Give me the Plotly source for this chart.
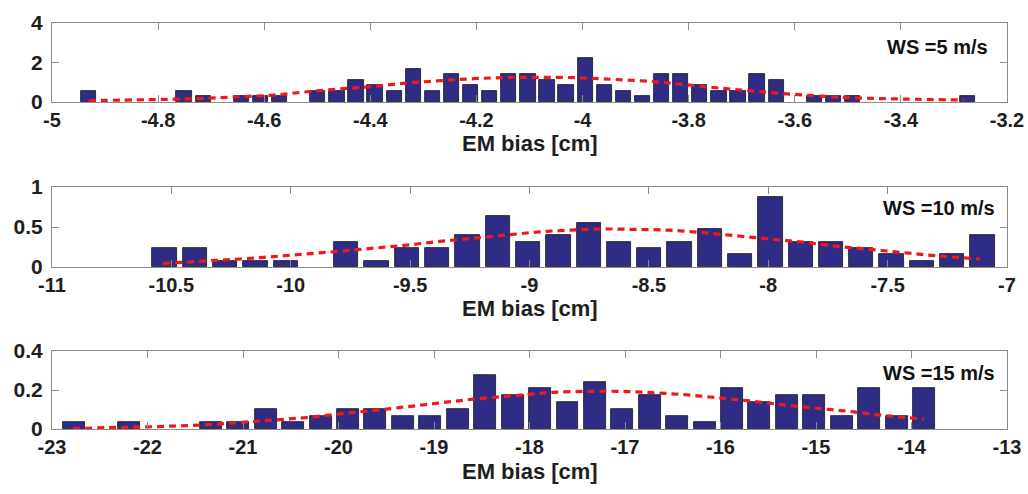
import plotly.graph_objects as go

# ---------------- data ----------------
# Panel 1 (WS = 5 m/s)
centers_5 = [-4.931, -4.895, -4.859, -4.823, -4.787, -4.751, -4.715, -4.679, -4.643, -4.607,
             -4.571, -4.535, -4.499, -4.463, -4.427, -4.391, -4.355, -4.319, -4.283, -4.247,
             -4.211, -4.175, -4.139, -4.103, -4.067, -4.031, -3.995, -3.959, -3.923, -3.887,
             -3.851, -3.815, -3.779, -3.743, -3.707, -3.671, -3.635, -3.599, -3.563, -3.527,
             -3.491, -3.455, -3.419, -3.383, -3.347, -3.311, -3.275]
heights_5 = [0.56, 0, 0, 0, 0, 0.56, 0.28, 0, 0.28, 0.28,
             0.28, 0, 0.56, 0.56, 1.12, 0.84, 0.56, 1.68, 0.56, 1.40,
             0.84, 0.56, 1.40, 1.40, 1.12, 0.84, 2.24, 0.84, 0.56, 0.28,
             1.40, 1.40, 0.84, 0.56, 0.56, 1.40, 1.12, 0, 0.28, 0.28,
             0.28, 0, 0, 0, 0, 0, 0.28]
fit_x_5 = [-4.931, -4.815, -4.721, -4.645, -4.582, -4.519, -4.457, -4.394, -4.331, -4.268,
           -4.205, -4.142, -4.079, -4.010, -3.960, -3.865, -3.802, -3.740, -3.677, -3.614,
           -3.551, -3.488, -3.394, -3.281]
fit_y_5 = [0.07, 0.12, 0.18, 0.27, 0.35, 0.52, 0.66, 0.79, 0.96, 1.08,
           1.18, 1.24, 1.25, 1.23, 1.17, 1.03, 0.87, 0.70, 0.55, 0.41,
           0.30, 0.21, 0.15, 0.10]

# Panel 2 (WS = 10 m/s)
centers_10 = [-10.529, -10.402, -10.275, -10.148, -10.021, -9.894, -9.768, -9.641, -9.514, -9.387,
              -9.260, -9.133, -9.006, -8.879, -8.752, -8.626, -8.499, -8.372, -8.245, -8.118,
              -7.991, -7.864, -7.737, -7.611, -7.484, -7.357, -7.230, -7.103]
heights_10 = [0.237, 0.237, 0.079, 0.079, 0.079, 0, 0.316, 0.079, 0.237, 0.237,
              0.395, 0.632, 0.316, 0.395, 0.553, 0.316, 0.237, 0.316, 0.474, 0.158,
              0.869, 0.316, 0.316, 0.237, 0.158, 0.079, 0.158, 0.395]
fit_x_10 = [-10.535, -10.353, -10.214, -10.074, -9.934, -9.795, -9.655, -9.515, -9.376, -9.236,
            -9.096, -8.957, -8.831, -8.692, -8.552, -8.412, -8.273, -8.133, -7.993, -7.854,
            -7.714, -7.574, -7.435, -7.295, -7.114]
fit_y_10 = [0.045, 0.076, 0.10, 0.13, 0.164, 0.197, 0.235, 0.273, 0.32, 0.36,
            0.40, 0.44, 0.46, 0.475, 0.47, 0.46, 0.43, 0.39, 0.35, 0.31,
            0.26, 0.22, 0.18, 0.14, 0.10]

# Panel 3 (WS = 15 m/s)
centers_15 = [-22.772, -22.485, -22.198, -21.910, -21.623, -21.336, -21.049, -20.762, -20.474, -20.187,
              -19.900, -19.613, -19.326, -19.038, -18.751, -18.464, -18.177, -17.890, -17.602, -17.315,
              -17.028, -16.741, -16.454, -16.166, -15.879, -15.592, -15.305, -15.018, -14.730, -14.443,
              -14.156, -13.869]
heights_15 = [0.035, 0, 0.035, 0, 0, 0.035, 0.035, 0.104, 0.035, 0.069,
              0.104, 0.104, 0.069, 0.069, 0.104, 0.278, 0.174, 0.208, 0.139, 0.243,
              0.104, 0.174, 0.069, 0.035, 0.208, 0.139, 0.174, 0.174, 0.069, 0.208,
              0.069, 0.208]
fit_x_15 = [-22.779, -22.43, -22.08, -21.73, -21.38, -21.03, -20.68, -20.33, -19.985, -19.636,
            -19.286, -18.937, -18.588, -18.238, -17.994, -17.75, -17.40, -17.05, -16.70, -16.35,
            -16.00, -15.655, -15.305, -14.956, -14.607, -14.257, -13.873]
fit_y_15 = [0.002, 0.007, 0.010, 0.015, 0.022, 0.034, 0.046, 0.059, 0.078, 0.095,
            0.114, 0.134, 0.153, 0.168, 0.178, 0.188, 0.193, 0.193, 0.186, 0.175,
            0.159, 0.142, 0.122, 0.105, 0.088, 0.068, 0.051]

labels = ["WS =5 m/s", "WS =10 m/s", "WS =15 m/s"]
x_title = "EM bias [cm]"

xtick_vals_5 = [-5, -4.8, -4.6, -4.4, -4.2, -4, -3.8, -3.6, -3.4, -3.2]
xtick_text_5 = ["-5", "-4.8", "-4.6", "-4.4", "-4.2", "-4", "-3.8", "-3.6", "-3.4", "-3.2"]
xtick_vals_10 = [-11, -10.5, -10, -9.5, -9, -8.5, -8, -7.5, -7]
xtick_text_10 = ["-11", "-10.5", "-10", "-9.5", "-9", "-8.5", "-8", "-7.5", "-7"]
xtick_vals_15 = [-23, -22, -21, -20, -19, -18, -17, -16, -15, -14, -13]
xtick_text_15 = ["-23", "-22", "-21", "-20", "-19", "-18", "-17", "-16", "-15", "-14", "-13"]
ytick_vals_5 = [0, 2, 4]
ytick_text_5 = ["0", "2", "4"]
ytick_vals_10 = [0, 0.5, 1]
ytick_text_10 = ["0", "0.5", "1"]
ytick_vals_15 = [0, 0.2, 0.4]
ytick_text_15 = ["0", "0.2", "0.4"]

# ---------------- styling ----------------
BAR = "#2f2c86"
RED = "#f01818"
FRAME = "#8c8c8c"
TXT = "#1e1e1e"
FONT = "Liberation Sans, Arial, sans-serif"

panels = [
    dict(c=centers_5, h=heights_5, fx=fit_x_5, fy=fit_y_5, bw=0.0288, xr=[-5, -3.2], yr=[0, 4],
         xv=xtick_vals_5, xt=xtick_text_5, yv=ytick_vals_5, yt=ytick_text_5,
         dom=[0.8054, 1.0], lab_x=0.982, lab_y=0.70, tshift=-41),
    dict(c=centers_10, h=heights_10, fx=fit_x_10, fy=fit_y_10, bw=0.1015, xr=[-11, -7], yr=[0, 1],
         xv=xtick_vals_10, xt=xtick_text_10, yv=ytick_vals_10, yt=ytick_text_10,
         dom=[0.399, 0.596], lab_x=0.9895, lab_y=0.737, tshift=-41),
    dict(c=centers_15, h=heights_15, fx=fit_x_15, fy=fit_y_15, bw=0.2298, xr=[-23, -13], yr=[0, 0.4],
         xv=xtick_vals_15, xt=xtick_text_15, yv=ytick_vals_15, yt=ytick_text_15,
         dom=[0.0, 0.192], lab_x=0.9895, lab_y=0.718, tshift=-42),
]

fig = go.Figure()
layout = dict(
    width=1028, height=494,
    margin=dict(l=52, r=21, t=23, b=65, autoexpand=False),
    paper_bgcolor="white", plot_bgcolor="white",
    showlegend=False,
    font=dict(family=FONT, color=TXT),
    annotations=[],
)

for i, p in enumerate(panels):
    n = "" if i == 0 else str(i + 1)
    xs = [c for c, h in zip(p["c"], p["h"]) if h > 0]
    ys = [h for h in p["h"] if h > 0]
    fig.add_trace(go.Bar(
        x=xs, y=ys, width=p["bw"], xaxis="x" + n, yaxis="y" + n,
        marker=dict(color=BAR, line=dict(color="#151515", width=0.8)),
    ))
    fig.add_trace(go.Scatter(
        x=p["fx"], y=p["fy"], mode="lines", xaxis="x" + n, yaxis="y" + n,
        line=dict(color=RED, width=3.2, dash="7px,5px", shape="spline", smoothing=1.0),
    ))
    layout["xaxis" + n] = dict(
        domain=[0, 1], anchor="y" + n, range=p["xr"], automargin=False,
        tickmode="array", tickvals=p["xv"], ticktext=p["xt"],
        ticks="inside", ticklen=7, tickcolor=FRAME, tickwidth=1,
        showline=True, linecolor=FRAME, linewidth=1, mirror="ticks",
        showgrid=False, zeroline=False,
        tickfont=dict(size=20, family=FONT, color=TXT, weight="bold"),
        ticklabelstandoff=0,
    )
    layout["yaxis" + n] = dict(
        domain=p["dom"], anchor="x" + n, range=p["yr"], automargin=False,
        tickmode="array", tickvals=p["yv"], ticktext=p["yt"],
        ticks="inside", ticklen=7, tickcolor=FRAME, tickwidth=1,
        showline=True, linecolor=FRAME, linewidth=1, mirror="ticks",
        showgrid=False, zeroline=False,
        tickfont=dict(size=21, family=FONT, color=TXT, weight="bold"),
        ticklabelstandoff=4,
    )
    layout["annotations"].append(dict(
        text=labels[i], xref="x" + n + " domain", yref="y" + n + " domain",
        x=p["lab_x"], y=p["lab_y"], xanchor="right", yanchor="middle", showarrow=False,
        font=dict(size=20, family=FONT, color="#111111", weight="bold"),
    ))
    layout["annotations"].append(dict(
        text=x_title, xref="x" + n + " domain", yref="y" + n + " domain",
        x=0.5, y=0, yshift=p["tshift"], xanchor="center", yanchor="middle", showarrow=False,
        font=dict(size=22, family=FONT, color=TXT, weight="bold"),
    ))

fig.update_layout(**layout, bargap=0)
fig.write_html("out.html", config={"displayModeBar": False},
               post_script="document.body.style.margin='0';document.body.style.overflow='hidden';")
